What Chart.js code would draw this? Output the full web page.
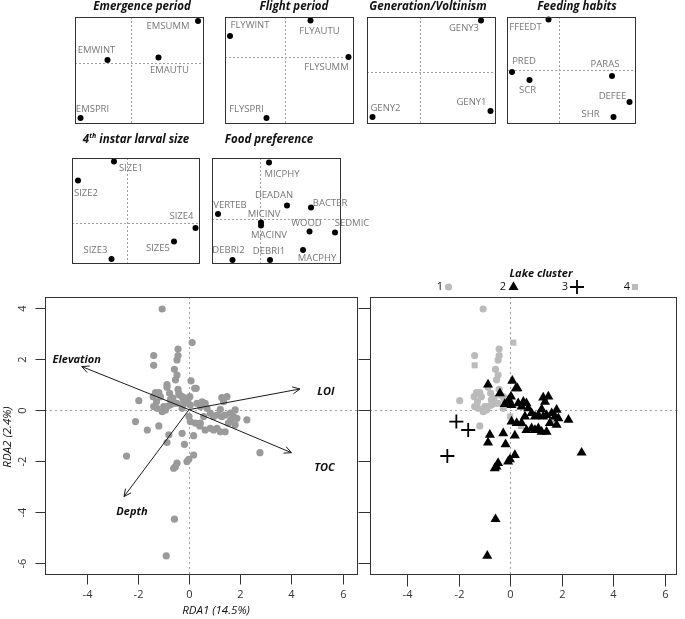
<!DOCTYPE html>
<html>
<head>
<meta charset="utf-8">
<script src="https://cdn.jsdelivr.net/npm/chart.js@4.4.1/dist/chart.umd.min.js"></script>
<style>
  body { margin: 0; background: #fff; }
  #wrap { position: relative; width: 685px; height: 619px; }
  #wrap canvas { position: absolute; left: 0; top: 0; }
</style>
</head>
<body>
<div id="wrap"></div>
<script>
// ---- trait category scores (small panels) ----
const emergenceNames = ['EMSUMM', 'EMWINT', 'EMAUTU', 'EMSPRI'];
const emergenceX = [1.35, -0.46, 0.56, -1.0];
const emergenceY = [0.83, 0.05, 0.10, -1.11];

const flightNames = ['FLYWINT', 'FLYAUTU', 'FLYSUMM', 'FLYSPRI'];
const flightX = [-1.10, 0.51, 1.27, -0.37];
const flightY = [0.41, 0.72, -0.01, -1.23];

const generationNames = ['GENY3', 'GENY1', 'GENY2'];
const generationX = [1.22, 1.41, -0.95];
const generationY = [1.02, -0.79, -0.91];

const feedingNames = ['FFEEDT', 'PRED', 'SCR', 'PARAS', 'DEFEE', 'SHR'];
const feedingX = [-0.20, -0.93, -0.58, 1.07, 1.42, 1.10];
const feedingY = [1.00, -0.05, -0.21, -0.13, -0.65, -0.95];

const sizeNames = ['SIZE1', 'SIZE2', 'SIZE4', 'SIZE5', 'SIZE3'];
const sizeX = [-0.25, -0.97, 1.38, 0.95, -0.30];
const sizeY = [1.22, 0.84, -0.11, -0.38, -0.73];

const foodNames = ['MICPHY', 'VERTEB', 'DEADAN', 'BACTER', 'MICINV', 'MACINV', 'WOOD', 'SEDMIC', 'DEBRI2', 'DEBRI1', 'MACPHY'];
const foodX = [0.19, -0.83, 0.55, 1.03, 0.03, 0.03, 1.00, 1.51, -0.54, 0.21, 0.87];
const foodY = [1.13, 0.10, 0.27, 0.23, -0.07, -0.13, -0.25, -0.27, -0.82, -0.82, -0.62];

// ---- site scores (RDA1, RDA2) and lake cluster ----
const siteX = [
  -1.05, -0.43, -1.38, -0.43, -0.47, -0.57, -0.47, -0.53, -0.86, -0.43, -1.96,
  -1.31, -1.18, -1.40, -1.12, -0.73, -0.27, -0.21, -1.38, -0.99, -0.73, -0.47,
  -1.25, -1.05, -0.92, -0.86, -0.60, -0.27, -1.18, -0.76, -0.63, -1.27, -0.38,
  -1.38, 0.12, -0.15, 0.00, 0.42, 1.63,
  -2.09, -1.63, -2.44,
  -0.86, 0.08, 0.28, 0.22, -0.40, 0.03, -0.05, 0.31, 0.51, 0.63, 0.44, 0.70,
  1.28, 1.48, 1.35, 0.05, -0.08, -0.21, 0.83, 1.09, 1.28, 1.41, 1.61, 1.80,
  1.74, 1.87, 1.54, 1.80, 2.26, 0.05, 0.25, 0.44, 0.63, 0.83, 0.96, 1.09,
  1.22, 1.41, 0.96, 0.57, 1.22, -0.79, -0.27, 0.18, -0.86, -0.18, -0.08,
  -0.01, 0.18, -0.60, -0.47, -0.53, 2.77, -0.57, -0.89
];
const siteY = [
  3.95, 2.38, 2.12, 2.12, 1.95, 1.58, 1.36, 1.17, 0.88, 0.80, 0.35,
  0.67, 0.67, 0.51, 0.51, 0.38, 0.51, 0.38, 0.12, 0.12, 0.18, 0.25,
  0.05, -0.08, -0.01, 0.12, 0.25, 0.05, -0.64, 0.64, 0.45, 0.31, 0.58,
  1.74, 2.63, 0.45, -0.27, -0.64, -0.40,
  -0.47, -0.80, -1.82,
  0.98, 1.13, 0.84, 0.84, 0.64, 0.51, 0.38, 0.25, 0.31, 0.25, 0.12, 0.05,
  0.47, 0.51, 0.31, 0.18, 0.31, 0.22, -0.14, -0.21, -0.27, -0.21, -0.14, -0.01,
  -0.27, -0.34, -0.53, -0.60, -0.40, -0.47, -0.53, -0.53, -0.80, -0.73, -0.80, -0.73,
  -0.87, -0.87, -0.27, -0.27, 0.01, -0.99, -0.93, -1.02, -1.29, -1.36, -2.04,
  -1.95, -1.78, -2.30, -2.10, -2.24, -1.69, -4.30, -5.74
];
const siteCluster = [
  1, 1, 1, 1, 1, 1, 1, 1, 1, 1, 1,
  1, 1, 1, 1, 1, 1, 1, 1, 1, 1, 1,
  1, 1, 1, 1, 1, 1, 1, 1, 1, 1, 1,
  4, 4, 4, 4, 4, 4,
  3, 3, 3,
  2, 2, 2, 2, 2, 2, 2, 2, 2, 2, 2, 2,
  2, 2, 2, 2, 2, 2, 2, 2, 2, 2, 2, 2,
  2, 2, 2, 2, 2, 2, 2, 2, 2, 2, 2, 2,
  2, 2, 2, 2, 2, 2, 2, 2, 2, 2, 2,
  2, 2, 2, 2, 2, 2, 2, 2
];

// environmental vectors
const envNames = ['Elevation', 'LOI', 'TOC', 'Depth'];
const envX = [-4.19, 4.33, 4.00, -2.54];
const envY = [1.69, 0.81, -1.69, -3.41];

const rdaTicks = [-6, -4, -2, 0, 2, 4, 6];
const clusterLabels = ['1', '2', '3', '4'];

// ---- layout / styling ----
const W = 685, H = 619;
const FONT = "'Open Sans', 'Noto Sans', sans-serif";

const panels = [
  { title: ['Emergence period'], tx: 142, ty: 7, box: [75, 17, 203, 123], range: [-1.11, 1.45, -1.21, 0.91],
    names: emergenceNames, xs: emergenceX, ys: emergenceY,
    offsets: [[-30, 5], [-11, -10], [11, 13], [12, -9]] },
  { title: ['Flight period'], tx: 294, ty: 7, box: [225, 17, 353, 123], range: [-1.20, 1.36, -1.33, 0.79],
    names: flightNames, xs: flightX, ys: flightY,
    offsets: [[20, -11], [9, 11], [-22, 10], [-20, -9]] },
  { title: ['Generation/Voltinism'], tx: 428, ty: 7, box: [367, 17, 495, 123], range: [-1.06, 1.50, -1.03, 1.09],
    names: generationNames, xs: generationX, ys: generationY,
    offsets: [[-17, 8], [-19, -9], [13, -9]] },
  { title: ['Feeding habits'], tx: 577, ty: 7, box: [507, 17, 635, 123], range: [-1.03, 1.53, -1.07, 1.05],
    names: feedingNames, xs: feedingX, ys: feedingY,
    offsets: [[-23, 8], [12, -11], [-2, 10], [-7, -12], [-17, -6], [-23, -3]] },
  { title: ['4', 'th', ' instar larval size'], tx: 136, ty: 140, box: [72, 158, 199, 263], range: [-1.09, 1.45, -0.81, 1.29],
    names: sizeNames, xs: sizeX, ys: sizeY,
    offsets: [[17, 7], [8, 13], [-14, -12], [-16, 7], [-16, -9]] },
  { title: ['Food preference'], tx: 269, ty: 140, box: [212, 158, 340, 263], range: [-0.95, 1.61, -0.88, 1.22],
    names: foodNames, xs: foodX, ys: foodY,
    offsets: [[13, 12], [12, -9], [-13, -10], [19, -4], [3, -8], [8, 10], [-3, -8], [17, -9], [-4, -10], [-1, -9], [14, 8]] }
];

// arrow label offsets from arrow tip (px)
const envLabelOffsets = [[-5, -7], [26, 3], [33, 15], [8, 15]];

const clusterStyles = {
  1: { pointStyle: 'circle', radius: 3.6, color: '#bbbbbb', order: 3 },
  2: { pointStyle: 'triangle', radius: 5.8, color: '#000000', order: 1 },
  3: { pointStyle: 'cross', radius: 7, color: '#000000', order: 0, borderWidth: 1.8 },
  4: { pointStyle: 'rect', radius: 4.3, color: '#bbbbbb', order: 2 }
};

function makeCanvas() {
  const c = document.createElement('canvas');
  c.width = W;
  c.height = H;
  document.getElementById('wrap').appendChild(c);
  return c;
}

function padFor(box) {
  return { left: box[0], top: box[1], right: W - box[2], bottom: H - box[3] };
}

function baseOptions(box, range) {
  return {
    responsive: false,
    animation: false,
    events: [],
    layout: { padding: padFor(box) },
    plugins: { legend: { display: false }, tooltip: { enabled: false } },
    scales: {
      x: { type: 'linear', display: false, min: range[0], max: range[1] },
      y: { type: 'linear', display: false, min: range[2], max: range[3] }
    }
  };
}

function zeroLines(chart, dash) {
  const { ctx, chartArea: a, scales: { x, y } } = chart;
  const x0 = Math.round(x.getPixelForValue(0)) + 0.5;
  const y0 = Math.round(y.getPixelForValue(0)) + 0.5;
  ctx.save();
  ctx.strokeStyle = '#a0a0a0';
  ctx.lineWidth = 1;
  ctx.setLineDash(dash);
  ctx.beginPath();
  ctx.moveTo(x0, a.top);
  ctx.lineTo(x0, a.bottom);
  ctx.moveTo(a.left, y0);
  ctx.lineTo(a.right, y0);
  ctx.stroke();
  ctx.restore();
}

function drawBox(ctx, a, color, lw) {
  ctx.save();
  ctx.strokeStyle = color;
  ctx.lineWidth = lw;
  ctx.strokeRect(Math.round(a.left) + 0.5, Math.round(a.top) + 0.5,
    Math.round(a.right - a.left), Math.round(a.bottom - a.top));
  ctx.restore();
}

function drawTitle(ctx, parts, cx, cy) {
  ctx.save();
  const big = 'italic bold 11.5px ' + FONT;
  const small = 'italic bold 7px ' + FONT;
  ctx.textBaseline = 'middle';
  ctx.fillStyle = '#111';
  const widths = parts.map((t, i) => {
    ctx.font = (parts.length === 3 && i === 1) ? small : big;
    return ctx.measureText(t).width;
  });
  let x = cx - widths.reduce((s, w) => s + w, 0) / 2;
  parts.forEach((t, i) => {
    const sup = parts.length === 3 && i === 1;
    ctx.font = sup ? small : big;
    ctx.textAlign = 'left';
    ctx.fillText(t, x, sup ? cy - 4 : cy);
    x += widths[i];
  });
  ctx.restore();
}

// ---- small panels ----
panels.forEach((p) => {
  const plugin = {
    id: 'panelDeco',
    beforeDatasetsDraw(chart) { zeroLines(chart, [2, 2]); },
    afterDatasetsDraw(chart) {
      const { ctx, chartArea: a } = chart;
      drawBox(ctx, a, '#333', 1);
      ctx.save();
      ctx.fillStyle = '#777';
      ctx.font = '9.5px ' + FONT;
      ctx.textAlign = 'center';
      ctx.textBaseline = 'middle';
      chart.getDatasetMeta(0).data.forEach((pt, i) => {
        const off = p.offsets[i];
        ctx.fillText(p.names[i], pt.x + off[0], pt.y + off[1]);
      });
      ctx.restore();
      drawTitle(ctx, p.title, p.tx, p.ty);
    }
  };
  new Chart(makeCanvas(), {
    type: 'scatter',
    data: {
      datasets: [{
        data: p.xs.map((v, i) => ({ x: v, y: p.ys[i] })),
        pointRadius: 3,
        backgroundColor: '#000',
        borderWidth: 0,
        clip: false
      }]
    },
    options: baseOptions(p.box, p.range),
    plugins: [plugin]
  });
});

// ---- RDA panels ----
function rdaPlugin(cfg) {
  return {
    id: 'rdaDeco',
    beforeDatasetsDraw(chart) { zeroLines(chart, [2, 3]); },
    afterDatasetsDraw(chart) {
      const { ctx, chartArea: a, scales: { x, y } } = chart;
      ctx.save();
      // arrows
      if (cfg.arrows) {
        const ox = x.getPixelForValue(0), oy = y.getPixelForValue(0);
        ctx.strokeStyle = '#1a1a1a';
        ctx.lineWidth = 1;
        envNames.forEach((name, i) => {
          const tx = x.getPixelForValue(envX[i]);
          const ty = y.getPixelForValue(envY[i]);
          const ang = Math.atan2(ty - oy, tx - ox);
          ctx.beginPath();
          ctx.moveTo(ox, oy);
          ctx.lineTo(tx, ty);
          ctx.moveTo(tx - 8 * Math.cos(ang - 0.45), ty - 8 * Math.sin(ang - 0.45));
          ctx.lineTo(tx, ty);
          ctx.lineTo(tx - 8 * Math.cos(ang + 0.45), ty - 8 * Math.sin(ang + 0.45));
          ctx.stroke();
          ctx.fillStyle = '#111';
          ctx.font = 'italic bold 11px ' + FONT;
          ctx.textAlign = 'center';
          ctx.textBaseline = 'middle';
          ctx.fillText(name, tx + envLabelOffsets[i][0], ty + envLabelOffsets[i][1]);
        });
      }
      ctx.restore();
      drawBox(ctx, a, '#333', 1);

      ctx.save();
      ctx.strokeStyle = '#333';
      ctx.lineWidth = 1;
      ctx.fillStyle = '#333';
      ctx.font = '11px ' + FONT;
      ctx.textAlign = 'center';
      ctx.textBaseline = 'middle';
      const bottom = Math.round(a.bottom) + 0.5;
      const left = Math.round(a.left) + 0.5;
      rdaTicks.forEach((t) => {
        if (t >= x.min && t <= x.max) {
          const px = Math.round(x.getPixelForValue(t)) + 0.5;
          ctx.beginPath();
          ctx.moveTo(px, bottom);
          ctx.lineTo(px, bottom + cfg.tick);
          ctx.stroke();
          ctx.fillText(String(t), px, 595);
        }
        if (t >= y.min && t <= y.max) {
          const py = Math.round(y.getPixelForValue(t)) + 0.5;
          ctx.beginPath();
          ctx.moveTo(left, py);
          ctx.lineTo(left - cfg.tick, py);
          ctx.stroke();
          if (cfg.yLabels) {
            ctx.save();
            ctx.translate(23, py);
            ctx.rotate(-Math.PI / 2);
            ctx.fillText(String(t), 0, 0);
            ctx.restore();
          }
        }
      });
      if (cfg.titles) {
        ctx.fillStyle = '#111';
        ctx.font = 'italic 11.5px ' + FONT;
        ctx.fillText('RDA1 (14.5%)', 216, 611);
        ctx.save();
        ctx.translate(8, 437);
        ctx.rotate(-Math.PI / 2);
        ctx.fillText('RDA2 (2.4%)', 0, 0);
        ctx.restore();
      }
      if (cfg.legend) {
        ctx.fillStyle = '#111';
        ctx.font = 'italic bold 11px ' + FONT;
        ctx.fillText('Lake cluster', 541, 274);
        ctx.font = '11px ' + FONT;
        const numX = [440, 503, 565, 627];
        const symX = [448.5, 513.5, 577, 635];
        const ly = 287;
        clusterLabels.forEach((lab, i) => {
          ctx.fillStyle = '#111';
          ctx.fillText(lab, numX[i], ly);
          const st = clusterStyles[i + 1];
          ctx.fillStyle = st.color;
          ctx.strokeStyle = st.color;
          ctx.beginPath();
          if (st.pointStyle === 'circle') {
            ctx.arc(symX[i], ly, st.radius, 0, Math.PI * 2);
            ctx.fill();
          } else if (st.pointStyle === 'triangle') {
            const r = st.radius;
            ctx.moveTo(symX[i], ly - r);
            ctx.lineTo(symX[i] + r * 0.866, ly + r / 2);
            ctx.lineTo(symX[i] - r * 0.866, ly + r / 2);
            ctx.closePath();
            ctx.fill();
          } else if (st.pointStyle === 'cross') {
            ctx.lineWidth = st.borderWidth;
            ctx.moveTo(symX[i] - st.radius, ly);
            ctx.lineTo(symX[i] + st.radius, ly);
            ctx.moveTo(symX[i], ly - st.radius);
            ctx.lineTo(symX[i], ly + st.radius);
            ctx.stroke();
          } else {
            const s = st.radius * Math.SQRT1_2;
            ctx.fillRect(symX[i] - s, ly - s, 2 * s, 2 * s);
          }
        });
      }
      ctx.restore();
    }
  };
}

// left: all sites in grey with environmental arrows
new Chart(makeCanvas(), {
  type: 'scatter',
  data: {
    datasets: [{
      data: siteX.map((v, i) => ({ x: v, y: siteY[i] })),
      pointRadius: 3.6,
      backgroundColor: '#9a9a9a',
      borderWidth: 0,
      clip: false
    }]
  },
  options: baseOptions([45, 297, 357, 574], [-5.625, 6.56, -6.45, 4.42]),
  plugins: [rdaPlugin({ arrows: true, yLabels: true, titles: true, tick: 10 })]
});

// right: sites by lake cluster
const clusterSets = [1, 2, 3, 4].map((c) => {
  const st = clusterStyles[c];
  const pts = [];
  siteCluster.forEach((k, i) => { if (k === c) pts.push({ x: siteX[i], y: siteY[i] }); });
  return {
    data: pts,
    order: st.order,
    pointStyle: st.pointStyle,
    pointRadius: st.radius,
    backgroundColor: st.color,
    borderColor: st.color,
    borderWidth: st.borderWidth || 0,
    clip: false
  };
});

new Chart(makeCanvas(), {
  type: 'scatter',
  data: { datasets: clusterSets },
  options: baseOptions([370, 297, 683, 574], [-5.44, 6.44, -6.45, 4.42]),
  plugins: [rdaPlugin({ legend: true, tick: 12 })]
});
</script>
</body>
</html>
